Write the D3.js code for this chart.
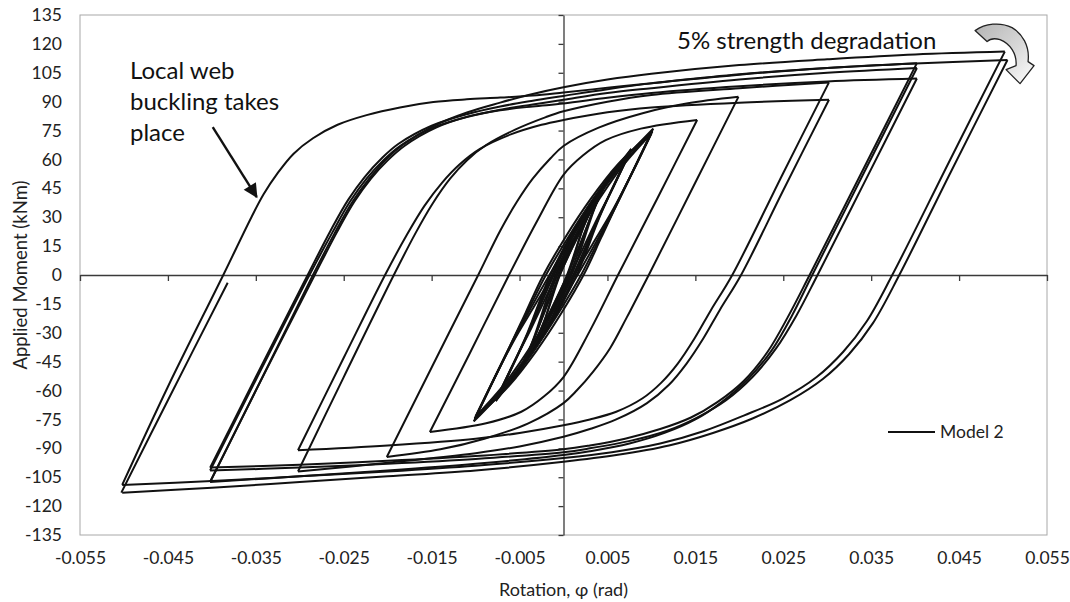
<!DOCTYPE html>
<html>
<head>
<meta charset="utf-8">
<script src="https://cdn.jsdelivr.net/npm/d3@7"></script>
<style>
  html, body { margin: 0; padding: 0; background: #fff; }
  svg { display: block; font-family: Lato, "Open Sans", sans-serif; }
</style>
</head>
<body>
<svg id="chart" width="1070" height="602"></svg>
<script>
// Axis ticks
const xTickValues = [-0.055, -0.045, -0.035, -0.025, -0.015, -0.005, 0.005, 0.015, 0.025, 0.035, 0.045, 0.055];
const xTickLabels = ["-0.055", "-0.045", "-0.035", "-0.025", "-0.015", "-0.005", "0.005", "0.015", "0.025", "0.035", "0.045", "0.055"];
const yTickValues = [-135, -120, -105, -90, -75, -60, -45, -30, -15, 0, 15, 30, 45, 60, 75, 90, 105, 120, 135];
const yTickLabels = ["-135", "-120", "-105", "-90", "-75", "-60", "-45", "-30", "-15", "0", "15", "30", "45", "60", "75", "90", "105", "120", "135"];

// Moment–rotation branches [rotation (rad), moment (kNm)], tip to tip
const core040 = [
  [[-0.0040,-42],[-0.0022,-24],[-0.0004,0],[0.0018,22],[0.0040,42]],
  [[0.0040,42],[0.0022,24],[0.0004,0],[-0.0018,-22],[-0.0040,-42]],
  [[-0.0041,-43.5],[-0.0023,-25.5],[-0.0006,-1],[0.0017,22],[0.0041,43.5]],
  [[0.0041,43.5],[0.0023,25.5],[0.0006,1],[-0.0017,-22],[-0.0041,-43.5]]
];
const core050 = [
  [[-0.0053,-52],[-0.0035,-35],[-0.0007,0],[0.0015,20],[0.0033,36],[0.0053,52]],
  [[0.0053,52],[0.0035,35],[0.0007,0],[-0.0015,-20],[-0.0033,-36],[-0.0053,-52]],
  [[-0.0055,-53.5],[-0.0037,-36.5],[-0.0010,-1],[0.0013,19.5],[0.0032,35.5],[0.0055,53.5]],
  [[0.0055,53.5],[0.0037,36.5],[0.0010,1],[-0.0013,-19.5],[-0.0032,-35.5],[-0.0055,-53.5]],
  [[-0.0054,-52.5],[-0.0036,-35.5],[-0.0004,0.5],[0.0017,20.5],[0.0035,36.5],[0.0054,52.5]],
  [[0.0054,52.5],[0.0036,35.5],[0.0004,-0.5],[-0.0017,-20.5],[-0.0035,-36.5],[-0.0054,-52.5]]
];
const core075 = [
  [[-0.0076,-64],[-0.0058,-47],[-0.0038,-28],[-0.0011,0],[0.0012,21],[0.0035,39],[0.0055,52],[0.0076,64]],
  [[0.0076,64],[0.0058,47],[0.0038,28],[0.0011,0],[-0.0012,-21],[-0.0035,-39],[-0.0055,-52],[-0.0076,-64]],
  [[-0.0077,-65.5],[-0.0059,-48.5],[-0.0040,-29.5],[-0.0014,-1],[0.0009,20],[0.0033,38],[0.0054,51.5],[0.0077,65.5]],
  [[0.0077,65.5],[0.0059,48.5],[0.0040,29.5],[0.0014,1],[-0.0009,-20],[-0.0033,-38],[-0.0054,-51.5],[-0.0077,-65.5]],
  [[-0.0075,-63],[-0.0057,-46],[-0.0036,-27],[-0.0008,0],[0.0015,21.5],[0.0037,39.5],[0.0056,52.5],[0.0075,63]],
  [[0.0075,63],[0.0057,46],[0.0036,27],[0.0008,0],[-0.0015,-21.5],[-0.0037,-39.5],[-0.0056,-52.5],[-0.0075,-63]],
  [[-0.0076,-64.5],[-0.0059,-48],[-0.0041,-30],[-0.0017,-2],[0.0007,19.5],[0.0031,37.5],[0.0053,51.5],[0.0076,64.5]],
  [[0.0076,64.5],[0.0059,48],[0.0041,30],[0.0017,2],[-0.0007,-19.5],[-0.0031,-37.5],[-0.0053,-51.5],[-0.0076,-64.5]]
];
const core100 = [
  [[-0.0100,-73.5],[-0.0079,-54],[-0.0057,-34.5],[-0.0033,-16],[-0.0012,0],[0.0013,20],[0.0040,39],[0.0067,56.5],[0.0100,73.5]],
  [[0.0100,73.5],[0.0079,54],[0.0057,34.5],[0.0033,16],[0.0012,0],[-0.0013,-20],[-0.0040,-39],[-0.0067,-56.5],[-0.0100,-73.5]],
  [[-0.0101,-75],[-0.0080,-55],[-0.0058,-35],[-0.0037,-17],[-0.0016,0],[0.0010,20],[0.0037,39],[0.0066,57],[0.0101,75]],
  [[0.0101,75],[0.0080,55],[0.0058,35],[0.0037,17],[0.0016,0],[-0.0010,-20],[-0.0037,-39],[-0.0066,-57],[-0.0101,-75]],
  [[-0.0102,-76],[-0.0081,-56],[-0.0060,-36],[-0.0040,-18],[-0.0020,0],[0.0006,20],[0.0034,39.5],[0.0064,57.5],[0.0102,76]],
  [[0.0102,76],[0.0081,56],[0.0060,36],[0.0040,18],[0.0020,0],[-0.0006,-20],[-0.0034,-39.5],[-0.0064,-57.5],[-0.0102,-76]],
  [[-0.0101,-74.5],[-0.0081,-55.5],[-0.0061,-37],[-0.0043,-19.5],[-0.0024,-1],[0.0002,19.5],[0.0031,39.5],[0.0062,57.5],[0.0101,74.5]],
  [[0.0101,74.5],[0.0081,55.5],[0.0061,37],[0.0043,19.5],[0.0024,1],[-0.0002,-19.5],[-0.0031,-39.5],[-0.0062,-57.5],[-0.0101,-74.5]]
];
const cycle015 = [
  [[-0.0152,-81.5],[-0.0107,-41],[-0.0062,0],[-0.0030,28],[0,52],[0.0022,62],[0.0048,70],[0.0088,76],[0.0152,80.5]],
  [[0.0152,80.5],[0.0107,40],[0.0062,0],[0.0030,-29],[0,-53],[-0.0022,-63],[-0.0048,-71],[-0.0088,-77],[-0.0152,-81.5]]
];
const cycle020 = [
  [[-0.0201,-94.5],[-0.0150,-48],[-0.0097,0],[-0.0072,23],[-0.0053,38],[-0.0035,50],[-0.0015,60.5],[0,67],[0.0040,76.5],[0.0090,84],[0.0140,89],[0.0199,92.5]],
  [[0.0199,92.5],[0.0150,48],[0.0097,0],[0.0072,-22],[0.0053,-38],[0.0034,-50],[0.0015,-60],[0,-66.5],[-0.0040,-77],[-0.0090,-85],[-0.0140,-90.5],[-0.0201,-94.5]]
];
const cycle030 = [
  [[-0.0302,-102],[-0.0250,-53],[-0.0193,0],[-0.0168,22],[-0.0149,37],[-0.0129,50],[-0.0110,59.5],[-0.0088,67.5],[-0.0055,75.5],[-0.0020,82],[0,85],[0.0050,90],[0.0100,93.5],[0.0200,97],[0.0302,100]],
  [[0.0302,100],[0.0250,53],[0.0192,0],[0.0168,-18],[0.0149,-33],[0.0130,-46],[0.0111,-56],[0.0090,-64],[0.0060,-71],[0.0030,-75],[0,-78],[-0.0050,-82],[-0.0100,-85],[-0.0200,-88.5],[-0.0302,-91]],
  [[-0.0302,-91],[-0.0250,-43],[-0.0203,0],[-0.0178,21],[-0.0158,36],[-0.0138,48],[-0.0118,57.5],[-0.0095,65.5],[-0.0060,73],[-0.0025,78],[0,80.5],[0.0050,84.5],[0.0100,87],[0.0200,89.5],[0.0302,91]],
  [[0.0302,91],[0.0250,44],[0.0202,0],[0.0178,-18],[0.0159,-33],[0.0140,-46],[0.0120,-57],[0.0095,-66.5],[0.0060,-75],[0.0030,-80],[0,-84],[-0.0050,-89],[-0.0100,-92.5],[-0.0200,-97.5],[-0.0302,-102]]
];
const cycle040 = [
  [[-0.0402,-100],[-0.0350,-53],[-0.0291,0],[-0.0265,23],[-0.0245,39],[-0.0226,51],[-0.0207,60.5],[-0.0188,68],[-0.0150,77.5],[-0.0110,83.5],[-0.0072,87.5],[-0.0035,90.5],[0,93],[0.0050,96.5],[0.0100,99.5],[0.0200,104],[0.0300,107.5],[0.0402,110]],
  [[0.0402,110],[0.0340,54],[0.0280,0],[0.0255,-22],[0.0232,-40],[0.0205,-55],[0.0175,-66],[0.0145,-74],[0.0110,-80],[0.0070,-85],[0.0030,-88.5],[0,-90.5],[-0.0100,-94],[-0.0200,-96.5],[-0.0300,-98.5],[-0.0402,-100]],
  [[-0.0402,-107.5],[-0.0350,-60],[-0.0283,0],[-0.0258,22],[-0.0238,38],[-0.0219,50],[-0.0200,59.5],[-0.0181,67],[-0.0145,76.5],[-0.0107,82.5],[-0.0070,86],[-0.0035,88.5],[0,91],[0.0050,94.5],[0.0100,97],[0.0200,101.5],[0.0300,105],[0.0402,107.5]],
  [[0.0402,107.5],[0.0340,51.5],[0.0283,0],[0.0260,-21],[0.0237,-39],[0.0210,-54],[0.0180,-66],[0.0150,-75],[0.0115,-82],[0.0075,-87.5],[0.0030,-91.5],[0,-93.5],[-0.0100,-98],[-0.0200,-101.5],[-0.0300,-104.5],[-0.0402,-107.5]],
  [[-0.0402,-101.5],[-0.0350,-54.5],[-0.0289,0],[-0.0263,22],[-0.0243,38],[-0.0224,50],[-0.0205,59.5],[-0.0186,67],[-0.0148,76.5],[-0.0110,82],[-0.0072,85.5],[-0.0035,87.5],[0,89],[0.0050,92],[0.0100,94.5],[0.0200,98],[0.0300,100.5],[0.0402,102]],
  [[0.0402,102],[0.0340,46],[0.0289,0],[0.0265,-21],[0.0242,-38],[0.0215,-53],[0.0185,-65],[0.0152,-74],[0.0117,-81],[0.0077,-86],[0.0030,-90],[0,-92],[-0.0100,-95.5],[-0.0200,-98],[-0.0300,-100],[-0.0402,-101.5]]
];
const cycle050 = [
  [[-0.0402,-107.5],[-0.0350,-60],[-0.0285,0],[-0.0260,22],[-0.0240,38],[-0.0221,50],[-0.0202,60],[-0.0183,67.5],[-0.0147,77.5],[-0.0109,84.5],[-0.0072,89.5],[-0.0035,94],[0,97.5],[0.0050,101.5],[0.0100,104.5],[0.0200,109],[0.0300,112],[0.0400,114.5],[0.0502,116]],
  [[0.0502,116],[0.0440,60],[0.0374,0],[0.0345,-24],[0.0318,-40],[0.0288,-53],[0.0250,-64],[0.0205,-73],[0.0160,-81],[0.0110,-87.5],[0.0055,-92],[0,-95],[-0.0100,-99],[-0.0200,-102],[-0.0300,-104.5],[-0.0400,-107],[-0.0502,-109]],
  [[-0.0502,-109],[-0.0450,-58],[-0.0387,0],[-0.0355,30],[-0.0341,42],[-0.0325,53],[-0.0307,63],[-0.0285,71],[-0.0257,78],[-0.0224,83],[-0.0186,87],[-0.0148,89.8],[-0.0110,91.2],[-0.0072,92.1],[-0.0035,93.2],[0,94.8],[0.0050,97.2],[0.0100,99.6],[0.0200,104.2],[0.0300,107.5],[0.0400,109.8],[0.0505,111.6]],
  [[0.0505,111.6],[0.0440,53],[0.0382,0],[0.0352,-25],[0.0325,-41],[0.0295,-54],[0.0258,-65],[0.0215,-74.5],[0.0170,-82],[0.0120,-88.5],[0.0060,-93.5],[0,-97],[-0.0100,-101.5],[-0.0200,-104.5],[-0.0300,-107.5],[-0.0400,-110.5],[-0.0502,-113]],
  [[-0.0503,-113],[-0.0450,-65],[-0.0382,-4]]
];

const branches = [].concat(core040, core050, core075, core100, cycle015, cycle020, cycle030, cycle040, cycle050);

const width = 1070, height = 602;
const margin = { left: 80, right: 23, top: 15, bottom: 67 };
const svg = d3.select("#chart");

const x = d3.scaleLinear().domain([-0.055, 0.055]).range([margin.left, width - margin.right]);
const y = d3.scaleLinear().domain([-135, 135]).range([height - margin.bottom, margin.top]);

// Plot frame
svg.append("rect")
  .attr("x", x(-0.055)).attr("y", y(135))
  .attr("width", x(0.055) - x(-0.055)).attr("height", y(-135) - y(135))
  .attr("fill", "none").attr("stroke", "#a8a8a8").attr("stroke-width", 1);

// Zero axes with tick marks
const xZero = svg.append("g")
  .attr("transform", `translate(0,${y(0)})`)
  .call(d3.axisBottom(x).tickValues(xTickValues).tickSize(6).tickSizeOuter(0).tickFormat(""));
const yZero = svg.append("g")
  .attr("transform", `translate(${x(0)},0)`)
  .call(d3.axisLeft(y).tickValues(yTickValues).tickSize(5).tickSizeOuter(0).tickFormat(""));
[xZero, yZero].forEach(g => {
  g.selectAll("path, line").attr("stroke", "#3a3a3a").attr("stroke-width", 1.3);
});

// Hysteresis curves
const line = d3.line()
  .x(d => x(d[0]))
  .y(d => y(d[1]))
  .curve(d3.curveCatmullRom.alpha(0.5));

svg.append("g")
  .selectAll("path")
  .data(branches)
  .join("path")
  .attr("d", line)
  .attr("fill", "none")
  .attr("stroke", "#111")
  .attr("stroke-width", 2)
  .attr("stroke-linejoin", "round");

// Tick labels along the frame
const xLabels = svg.append("g")
  .attr("transform", `translate(0,${y(-135)})`)
  .call(d3.axisBottom(x).tickValues(xTickValues).tickSize(0).tickPadding(17)
    .tickFormat((d, i) => xTickLabels[i]));
const yLabels = svg.append("g")
  .attr("transform", `translate(${x(-0.055)},0)`)
  .call(d3.axisLeft(y).tickValues(yTickValues).tickSize(0).tickPadding(18)
    .tickFormat((d, i) => yTickLabels[i]));
[xLabels, yLabels].forEach(g => {
  g.select(".domain").remove();
  g.selectAll("text").attr("font-family", "Lato, sans-serif").attr("font-size", 17.5).attr("fill", "#222");
});

// Axis titles
svg.append("text")
  .attr("x", (x(-0.055) + x(0.055)) / 2).attr("y", 596)
  .attr("text-anchor", "middle").attr("font-size", 18).attr("fill", "#222")
  .text("Rotation, φ (rad)");
svg.append("text")
  .attr("transform", `translate(27,${y(0)}) rotate(-90)`)
  .attr("text-anchor", "middle").attr("font-size", 18.5).attr("fill", "#222")
  .text("Applied Moment (kNm)");

// Legend
svg.append("line")
  .attr("x1", 888).attr("x2", 935).attr("y1", 432).attr("y2", 432)
  .attr("stroke", "#111").attr("stroke-width", 2.2);
svg.append("text")
  .attr("x", 940).attr("y", 438)
  .attr("font-size", 17.5).attr("fill", "#222")
  .text("Model 2");

// Annotation: web buckling
const note = svg.append("text").attr("font-size", 24).attr("fill", "#111");
[["Local web", 79], ["buckling takes", 110], ["place", 141]].forEach(([t, yy]) => {
  note.append("tspan").attr("x", 130).attr("y", yy).text(t);
});
const defs = svg.append("defs");
defs.append("marker")
  .attr("id", "head").attr("viewBox", "0 0 10 10")
  .attr("refX", 9).attr("refY", 5)
  .attr("markerWidth", 6.5).attr("markerHeight", 6)
  .attr("markerUnits", "strokeWidth")
  .attr("orient", "auto")
  .append("path").attr("d", "M0,0 L10,5 L0,10 Z").attr("fill", "#111");
svg.append("line")
  .attr("x1", x(-0.0399)).attr("y1", y(76.8))
  .attr("x2", x(-0.0349)).attr("y2", y(40.5))
  .attr("stroke", "#111").attr("stroke-width", 2.4)
  .attr("marker-end", "url(#head)");

// Annotation: strength degradation
svg.append("text")
  .attr("x", 677).attr("y", 49)
  .attr("font-size", 24).attr("fill", "#111")
  .text("5% strength degradation");

const grad = defs.append("linearGradient")
  .attr("id", "arrowFill").attr("x1", "0").attr("y1", "0").attr("x2", "1").attr("y2", "1");
grad.append("stop").attr("offset", "0%").attr("stop-color", "#b4b4b4");
grad.append("stop").attr("offset", "55%").attr("stop-color", "#d8d8d8");
grad.append("stop").attr("offset", "100%").attr("stop-color", "#ffffff");

svg.append("path")
  .attr("transform", `translate(${x(0.05)},${y(116)})`)
  .attr("d", "M-28,-21 C-18,-28 -3,-30 9,-24 C19,-18 27,-6 25,10 L31,14 L17,32 L3,18 L13,14 C14,2 7,-8 -3,-12 C-10,-14 -14,-12 -16,-10 Z")
  .attr("fill", "url(#arrowFill)")
  .attr("stroke", "#222").attr("stroke-width", 1.3).attr("stroke-linejoin", "round");
</script>
</body>
</html>
